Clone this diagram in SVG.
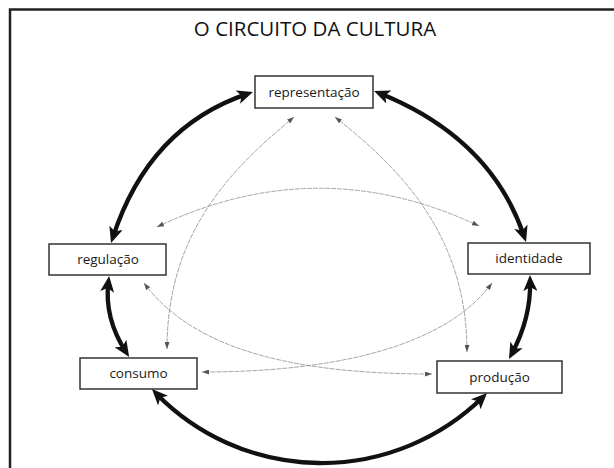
<svg xmlns="http://www.w3.org/2000/svg" width="614" height="468" viewBox="0 0 614 468">
  <defs>
    <marker id="big" markerUnits="userSpaceOnUse" markerWidth="16" markerHeight="14" viewBox="0 0 16 14" refX="10" refY="7" orient="auto-start-reverse">
      <path d="M0,0 L16,7 L0,14 L4,7 Z" fill="#111"/>
    </marker>
    <marker id="small" markerUnits="userSpaceOnUse" markerWidth="7" markerHeight="5" viewBox="0 0 7 5" refX="7" refY="2.5" orient="auto-start-reverse">
      <path d="M0,0 L7,2.5 L0,5 Z" fill="#555"/>
    </marker>
    <style>
      .box { fill: #fff; stroke: #333; stroke-width: 1.5; }
      .lbl { font-family: "Open Sans", "Liberation Sans", sans-serif; font-size: 13.5px; font-weight: 500; fill: #1a1a1a; text-anchor: middle; }
      .thick { fill: none; stroke: #111; stroke-width: 4.3; marker-start: url(#big); marker-end: url(#big); }
      .thin { fill: none; stroke: #8f8f8f; stroke-width: 0.8; stroke-dasharray: 5 1; marker-start: url(#small); marker-end: url(#small); }
    </style>
  </defs>
  <rect x="0" y="0" width="614" height="468" fill="#fff"/>
  <rect x="10" y="9.5" width="700" height="600" fill="none" stroke="#222" stroke-width="2.5"/>
  <text x="315" y="36" font-family="'Open Sans', 'Liberation Sans', sans-serif" font-size="20.5" font-weight="500" fill="#111" text-anchor="middle">O CIRCUITO DA CULTURA</text>

  <g id="connectors">
    <path class="thick" d="M112.9,237.3 Q149,127 247.3,93.9"/>
    <path class="thick" d="M379.6,93.2 Q491,138 524.1,236.3"/>
    <path class="thick" d="M108.4,282 Q104,318 125.9,351.9"/>
    <path class="thick" d="M530.1,281 Q531,318 511.8,353.7"/>
    <path class="thick" d="M156.1,393.4 A231,231 0 0 0 482.8,397.3"/>
    <path class="thin" d="M157,227 Q318,150 479,226"/>
    <path class="thin" d="M167,349 C167,230 234,167 294,117"/>
    <path class="thin" d="M467,352 C467,233 398,167 335,117"/>
    <path class="thin" d="M144,283 C195,352 300,374 432,374"/>
    <path class="thin" d="M492,283 C445,347 334,372 202,372"/>
  </g>

  <g id="representacao">
    <rect class="box" x="255" y="76" width="118" height="32"/>
    <text class="lbl" x="314" y="96.5">representação</text>
  </g>
  <g id="regulacao">
    <rect class="box" x="49" y="244" width="117" height="31"/>
    <text class="lbl" x="108" y="263.5">regulação</text>
  </g>
  <g id="identidade">
    <rect class="box" x="468" y="243" width="122" height="31"/>
    <text class="lbl" x="529" y="262.5">identidade</text>
  </g>
  <g id="consumo">
    <rect class="box" x="80" y="358" width="117" height="31"/>
    <text class="lbl" x="138.5" y="377.5">consumo</text>
  </g>
  <g id="producao">
    <rect class="box" x="437" y="361" width="125" height="32"/>
    <text class="lbl" x="499.5" y="381.5">produção</text>
  </g>
</svg>
